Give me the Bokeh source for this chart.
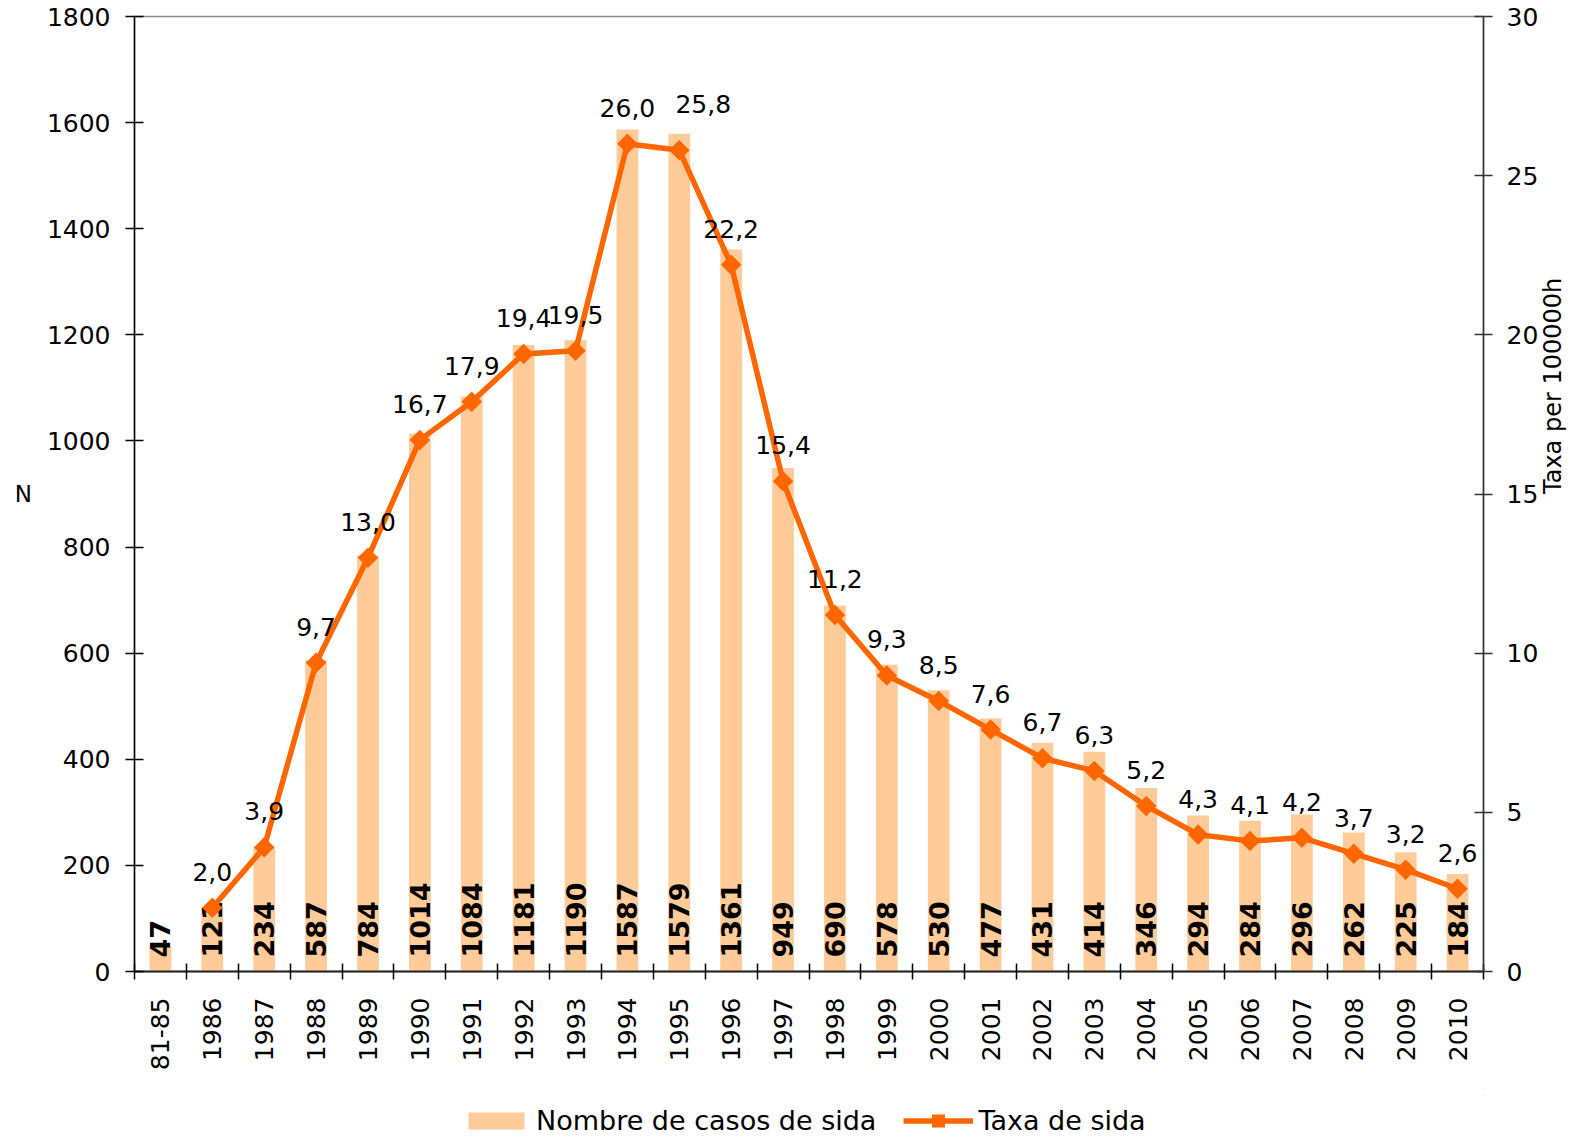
import math
from bokeh.plotting import figure
from bokeh.layouts import column
from bokeh.models import (Range1d, LinearAxis, FixedTicker, SingleIntervalTicker,
                          ColumnDataSource, Legend, LegendItem)
from bokeh.core.properties import value
from bokeh.embed import file_html
from bokeh.resources import INLINE

categories = ["81-85", "1986", "1987", "1988", "1989", "1990", "1991", "1992", "1993",
              "1994", "1995", "1996", "1997", "1998", "1999", "2000", "2001", "2002",
              "2003", "2004", "2005", "2006", "2007", "2008", "2009", "2010"]
cases = [47, 121, 234, 587, 784, 1014, 1084, 1181, 1190, 1587, 1579, 1361, 949, 690,
         578, 530, 477, 431, 414, 346, 294, 284, 296, 262, 225, 184]
rate = [None, 2.0, 3.9, 9.7, 13.0, 16.7, 17.9, 19.4, 19.5, 26.0, 25.8, 22.2, 15.4, 11.2,
        9.3, 8.5, 7.6, 6.7, 6.3, 5.2, 4.3, 4.1, 4.2, 3.7, 3.2, 2.6]
left_ticks_step = 200
right_ticks_step = 5

# manual nudge of one rate label (pixels) as in the original
label_nudge = {"1995": (24, -10)}

FONT = "DejaVu Sans"
BAR_COLOR = "#FFCC99"
LINE_COLOR = "#FF6600"

n = len(categories)
xs = list(range(n))

bar_src = ColumnDataSource(dict(x=xs, cases=cases, lab=[str(v) for v in cases]))

rx, ry, rlab, rxo, ryo = [], [], [], [], []
for i, (c, r) in enumerate(zip(categories, rate)):
    if r is None:
        continue
    rx.append(i)
    ry.append(r)
    rlab.append(f"{r:.1f}".replace(".", ","))
    dx, dy = label_nudge.get(c, (0, 0))
    rxo.append(dx)
    ryo.append(-36 + dy)
rate_src = ColumnDataSource(dict(x=rx, rate=ry, lab=rlab, xo=rxo, yo=ryo))

BORDER_L, BORDER_R = 134, 101

p = figure(width=1584, height=1088,
           x_range=Range1d(-0.5, n - 0.5), y_range=Range1d(0, 1800),
           output_backend="svg", toolbar_location=None,
           min_border_left=BORDER_L, min_border_right=BORDER_R, min_border_top=16,
           min_border_bottom=117)
p.extra_y_ranges = {"rate": Range1d(0, 30)}
p.xgrid.visible = False
p.ygrid.visible = False
p.background_fill_color = "white"
p.border_fill_color = "white"
p.outline_line_color = "#8c8c8c"
p.outline_line_width = 1.5

# bars
bars = p.vbar(x="x", top="cases", width=0.42, source=bar_src,
              fill_color=BAR_COLOR, line_color=None)
# bar value labels
p.text(x="x", y=0, text="lab", source=bar_src, angle=math.pi / 2,
       text_align="left", text_baseline="middle", y_offset=-14,
       text_font=value(FONT), text_font_style="bold", text_font_size="27px",
       text_color="black")

# rate line
ln = p.line(x="x", y="rate", source=rate_src, y_range_name="rate",
            line_color=LINE_COLOR, line_width=5.5)
mk = p.scatter(x="x", y="rate", source=rate_src, y_range_name="rate",
               marker="square", angle=math.pi / 4, size=10,
               fill_color=LINE_COLOR, line_color=LINE_COLOR, line_width=4.5,
               line_join="miter")
p.text(x="x", y="rate", text="lab", source=rate_src, y_range_name="rate",
       x_offset="xo", y_offset="yo", text_align="center",
       text_baseline="alphabetic", text_font=value(FONT),
       text_font_size="25px", text_color="black")

# x axis
xa = p.xaxis[0]
xa.ticker = FixedTicker(ticks=xs, minor_ticks=[i - 0.5 for i in range(n + 1)])
xa.major_label_overrides = {i: c for i, c in enumerate(categories)}
xa.major_label_orientation = math.pi / 2
xa.major_tick_in = 0
xa.major_tick_out = 0
xa.minor_tick_in = 8
xa.minor_tick_out = 8
xa.minor_tick_line_color = "black"
xa.minor_tick_line_width = 1.5
xa.axis_line_color = "#222222"
xa.axis_line_width = 2
xa.major_label_text_font = FONT
xa.major_label_text_font_size = "25px"
xa.major_label_text_color = "black"
xa.major_label_standoff = 18

# left axis
ya = p.yaxis[0]
ya.ticker = SingleIntervalTicker(interval=left_ticks_step)
ya.minor_tick_line_color = None
ya.major_tick_in = 9
ya.major_tick_out = 9
ya.major_tick_line_color = "black"
ya.major_tick_line_width = 1.5
ya.axis_line_color = "black"
ya.axis_line_width = 1.5
ya.major_label_text_font = FONT
ya.major_label_text_font_size = "25px"
ya.major_label_text_color = "black"
ya.major_label_standoff = 15
ya.axis_label = "N"
ya.axis_label_orientation = "horizontal"
ya.axis_label_text_font = FONT
ya.axis_label_text_font_style = "normal"
ya.axis_label_text_font_size = "23px"
ya.axis_label_text_color = "black"
ya.axis_label_standoff = 12

# right axis
ra = LinearAxis(y_range_name="rate", ticker=SingleIntervalTicker(interval=right_ticks_step))
ra.minor_tick_line_color = None
ra.major_tick_in = 9
ra.major_tick_out = 9
ra.major_tick_line_color = "#333333"
ra.major_tick_line_width = 1.5
ra.axis_line_color = "#333333"
ra.axis_line_width = 1.5
ra.major_label_text_font = FONT
ra.major_label_text_font_size = "25px"
ra.major_label_text_color = "black"
ra.major_label_standoff = 14
ra.axis_label = "Taxa per 100000h"
ra.axis_label_orientation = math.pi / 2
ra.axis_label_text_font = FONT
ra.axis_label_text_font_style = "normal"
ra.axis_label_text_font_size = "24px"
ra.axis_label_text_color = "black"
ra.axis_label_standoff = 12
p.add_layout(ra, "right")

# legend strip under the chart: proxy renderers of the same sources, kept
# far outside the strip's visible ranges so only the legend swatches show
lg = figure(width=1584, height=48, output_backend="svg", toolbar_location=None,
            x_range=Range1d(-2000, -1000), y_range=Range1d(-3000, -2000),
            x_axis_location=None, y_axis_location=None,
            min_border_left=BORDER_L, min_border_top=0, min_border_bottom=0,
            min_border_right=BORDER_R)
lg.extra_y_ranges = {"rate": Range1d(-300, -200)}
lg.grid.visible = False
lg.outline_line_color = None
lg.background_fill_color = "white"
lg.border_fill_color = "white"
pb = lg.vbar(x="x", top="cases", bottom="cases", width=0.42, source=bar_src,
             fill_color=BAR_COLOR, line_color=None)
pl = lg.line(x="x", y="rate", source=rate_src, y_range_name="rate",
             line_color=LINE_COLOR, line_width=5.5)
pm = lg.scatter(x="x", y="rate", source=rate_src, y_range_name="rate",
                marker="square", angle=math.pi / 4, size=10,
                fill_color=LINE_COLOR, line_color=LINE_COLOR, line_width=4.5,
                line_join="miter")

legend = Legend(items=[
    LegendItem(label="Nombre de casos de sida", renderers=[pb]),
    LegendItem(label="Taxa de sida", renderers=[pl, pm]),
], orientation="horizontal", location=(461 - BORDER_L, 0))
legend.glyph_width = 70
legend.glyph_height = 21
legend.label_standoff = 5
legend.spacing = 27
legend.padding = 0
legend.margin = 0
legend.border_line_color = None
legend.background_fill_alpha = 0
legend.label_text_font = FONT
legend.label_text_font_size = "27px"
legend.label_text_color = "black"
lg.add_layout(legend, "center")

layout = column(p, lg, spacing=0)
open("out.html", "w").write(file_html(layout, INLINE))
